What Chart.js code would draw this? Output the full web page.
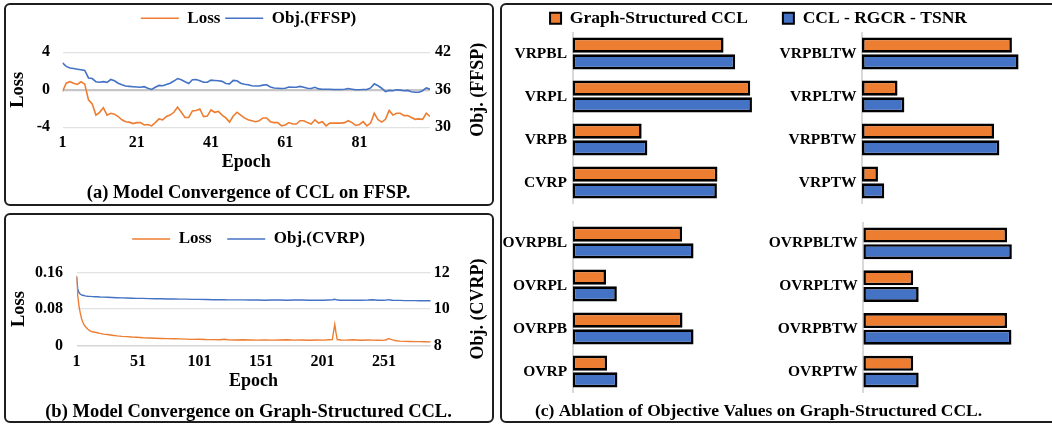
<!DOCTYPE html>
<html><head><meta charset="utf-8">
<script src="https://cdn.jsdelivr.net/npm/chart.js@4.4.1/dist/chart.umd.min.js"></script>
<style>
html,body{margin:0;padding:0;background:#fff;}
body{width:1052px;height:425px;overflow:hidden;position:relative;}
.frame{position:absolute;border:2px solid #1e1e1e;border-radius:6px;box-sizing:border-box;}
canvas{position:absolute;}
</style></head><body>
<div class="frame" style="left:4px;top:3px;width:490px;height:203px"></div>
<div class="frame" style="left:4px;top:213px;width:490px;height:210px"></div>
<div class="frame" style="left:499.5px;top:3px;width:570px;height:420px"></div>
<canvas id="ca" width="487" height="199" style="left:5px;top:5px"></canvas>
<canvas id="cb" width="487" height="208" style="left:5px;top:215px"></canvas>
<canvas id="cc" width="550" height="417" style="left:502px;top:5px"></canvas>
<canvas id="c1" width="263" height="172" style="left:500px;top:32px"></canvas>
<canvas id="c2" width="282" height="172" style="left:770px;top:32px"></canvas>
<canvas id="c3" width="263" height="172" style="left:500px;top:221px"></canvas>
<canvas id="c4" width="293" height="171" style="left:760px;top:222px"></canvas>
<script>
// ---------- Panel (a): FFSP convergence ----------
const epochsA = Array.from({length: 100}, (_, i) => i + 1);
const ticksA = [1, 21, 41, 61, 81];
const lossA = [
  -0.18, 0.7, 0.86, 0.7, 0.57, 0.86, 0.6, -1.07, -1.5, -2.7,
  -2.4, -1.9, -2.7, -2.5, -2.6, -2.85, -3.2, -3.4, -3.45, -3.6,
  -3.5, -3.5, -3.75, -3.7, -3.85, -3.5, -3.1, -3.2, -2.85, -2.7,
  -2.4, -1.85, -2.4, -2.95, -2.95, -2.25, -2.2, -2.05, -2.85, -2.8,
  -2.15, -2.4, -2.3, -2.7, -3.0, -3.45, -2.8, -2.4, -2.7, -3.0,
  -3.2, -3.3, -3.4, -3.3, -3.0, -3.0, -3.4, -3.5, -3.5, -3.85,
  -3.75, -3.5, -3.65, -3.65, -3.3, -3.3, -3.5, -3.65, -3.2, -3.55,
  -3.4, -3.85, -3.55, -3.55, -3.55, -3.55, -3.5, -3.3, -3.5, -3.8,
  -3.7, -3.4, -3.85, -3.55, -2.5, -3.2, -3.45, -3.15, -2.2, -2.7,
  -2.5, -2.5, -2.75, -2.75, -2.95, -3.15, -3.1, -3.15, -2.5, -2.85
];
const objA = [
  40.3, 39.75, 39.5, 39.4, 39.3, 39.2, 39.1, 37.9, 37.8, 37.3,
  37.2, 37.3, 37.2, 37.65, 37.45, 37.05, 36.8, 36.6, 36.55, 36.5,
  36.45, 36.4, 36.5, 36.25, 36.05, 36.4, 36.7, 36.65, 36.85, 37.05,
  37.4, 37.8, 37.6, 37.3, 37.0, 37.6, 37.65, 37.45, 37.2, 37.2,
  37.55, 37.5, 37.45, 37.35, 37.0, 36.95, 37.5, 37.45, 37.05, 36.9,
  36.8, 36.65, 36.6, 36.6, 36.75, 36.8, 36.45, 36.3, 36.25, 36.2,
  36.25, 36.45, 36.4, 36.4, 36.55, 36.4, 36.25, 36.2, 36.4, 36.15,
  36.1, 36.1, 36.1, 36.05, 36.05, 36.05, 36.1, 36.2, 36.1, 36.0,
  36.0, 36.05, 36.05, 36.3, 36.95, 36.65, 36.25, 35.7, 35.9, 35.85,
  36.0, 35.95, 35.85, 35.9, 35.7, 35.6, 35.6, 35.85, 36.3, 36.1
];

// ---------- Panel (b): CVRP convergence ----------
const ticksB = [1, 51, 101, 151, 201, 251];
const epochsB = [1,2,3,4,5,6,7,8,10,12,14,16,18,20,23,26,30,34,38,42,46,50,55,60,65,70,75,80,85,90,95,100,
  106,112,118,121,124,130,136,142,148,154,160,166,172,178,184,190,196,202,206,209,210,211,212,213,216,220,
  226,232,238,242,246,250,253,254,255,256,258,261,264,268,272,276,280,284,289];
const lossB = [0.153,0.109,0.087,0.072,0.060,0.052,0.046,0.042,0.036,0.032,0.030,0.029,0.028,0.0265,0.025,0.024,
  0.0225,0.021,0.020,0.0195,0.0185,0.018,0.017,0.0165,0.016,0.0155,0.015,0.0148,0.0145,0.014,0.0135,0.0138,
  0.013,0.0128,0.0125,0.0138,0.0125,0.0122,0.0125,0.0122,0.0118,0.0122,0.0118,0.012,0.0125,0.0118,0.012,0.0115,
  0.012,0.0118,0.0125,0.013,0.03,0.046,0.028,0.013,0.012,0.0118,0.0125,0.0115,0.012,0.0118,0.0115,0.0112,
  0.0125,0.0145,0.015,0.0138,0.0122,0.0105,0.0095,0.009,0.0088,0.0085,0.0085,0.0082,0.008];
const objB = [11.78,11.1,10.9,10.82,10.78,10.75,10.74,10.72,10.7,10.69,10.68,10.67,10.67,10.66,10.65,10.64,
  10.63,10.62,10.61,10.6,10.59,10.58,10.58,10.57,10.56,10.56,10.55,10.55,10.54,10.54,10.53,10.53,
  10.52,10.51,10.51,10.51,10.5,10.5,10.5,10.49,10.49,10.48,10.49,10.49,10.48,10.49,10.49,10.48,
  10.48,10.48,10.49,10.5,10.52,10.53,10.51,10.49,10.48,10.48,10.48,10.48,10.49,10.51,10.48,10.48,
  10.49,10.5,10.51,10.49,10.48,10.47,10.47,10.46,10.46,10.46,10.45,10.45,10.45];

// ---------- Panel (c): ablation bars (relative bar length, % of axis) ----------
const legendC = ['Graph-Structured CCL', 'CCL - RGCR - TSNR'];
const labelsTL = ['VRPBL', 'VRPL', 'VRPB', 'CVRP'];
const gsTL = [79.3, 93.3, 36.3, 76.1];
const abTL = [85.4, 94.2, 39.3, 75.8];
const labelsTR = ['VRPBLTW', 'VRPLTW', 'VRPBTW', 'VRPTW'];
const gsTR = [78.9, 18.7, 69.5, 8.4];
const abTR = [82.4, 22.3, 72.3, 11.7];
const labelsBL = ['OVRPBL', 'OVRPL', 'OVRPB', 'OVRP'];
const gsBL = [57.5, 17.5, 57.7, 18.1];
const abBL = [63.5, 23.2, 63.5, 23.5];
const labelsBR = ['OVRPBLTW', 'OVRPLTW', 'OVRPBTW', 'OVRPTW'];
const gsBR = [75.8, 26.3, 75.8, 26.3];
const abBR = [78.3, 29.2, 78.1, 29.2];

// ---------- styling ----------
const FONT = "'Liberation Serif','Times New Roman',serif";
const ORANGE = '#ED7D31', BLUE = '#4472C4';
Chart.defaults.font.family = FONT;
Chart.defaults.font.weight = 'bold';
Chart.defaults.color = '#000';

const legendGap = {
  id: 'legendGap',
  beforeLayout(chart, args, opts) {
    const lg = chart.legend;
    if (lg && !lg._gapPatched) {
      const fit = lg.fit;
      lg.fit = function () { fit.call(this); this.height += (opts.gap || 0); };
      lg._gapPatched = true;
    }
  }
};
const rightTitle = {
  id: 'rightTitle',
  afterDraw(chart, args, opts) {
    const t = chart.scales.y1.options.title;
    const ctx = chart.ctx;
    ctx.save();
    ctx.translate(opts.x, (chart.chartArea.top + chart.chartArea.bottom) / 2);
    ctx.rotate(-Math.PI / 2);
    ctx.font = 'bold ' + opts.size + 'px ' + FONT;
    ctx.fillStyle = '#000';
    ctx.textAlign = 'center';
    ctx.textBaseline = 'middle';
    ctx.fillText(t.text, 0, 0);
    ctx.restore();
  }
};

function lineChart(id, cfg) {
  return new Chart(document.getElementById(id), {
    type: 'line',
    data: { datasets: [
      { label: 'Loss', data: cfg.ep.map((e, i) => ({x: e, y: cfg.loss[i]})), borderColor: ORANGE, backgroundColor: ORANGE,
        borderWidth: cfg.lw, pointRadius: 0, tension: 0, yAxisID: 'y' },
      { label: cfg.objLabel, data: cfg.ep.map((e, i) => ({x: e, y: cfg.obj[i]})), borderColor: BLUE, backgroundColor: BLUE,
        borderWidth: cfg.lw, pointRadius: 0, tension: 0, yAxisID: 'y1' }
    ]},
    options: {
      responsive: false, animation: false, layout: { padding: 0 },
      scales: {
        x: { type: 'linear', min: cfg.xmin, max: cfg.xmax,
             afterBuildTicks: ax => { ax.ticks = cfg.ticks.map(v => ({value: v})); },
             grid: { display: false, drawTicks: false }, border: { display: false },
             ticks: { font: { size: 16, weight: 'bold' }, padding: cfg.xpad, maxRotation: 0, autoSkip: false, color: '#000' },
             title: { display: true, text: 'Epoch', font: { size: 18, weight: 'bold' }, padding: { top: 0, bottom: 0 }, color: '#000' },
             afterFit: s => { s.height = cfg.xh; } },
        y: { position: 'left', min: cfg.ymin, max: cfg.ymax,
             ticks: { stepSize: cfg.ystep, font: { size: 16, weight: 'bold' }, padding: cfg.lpad, color: '#000' },
             grid: { drawTicks: false, color: c => (c.tick && c.tick.value === cfg.ymark) ? cfg.markColor : '#e2e2e2',
                     lineWidth: c => (c.tick && c.tick.value === cfg.ymark) ? cfg.markWidth : 1.2 },
             border: { display: false },
             title: { display: true, text: 'Loss', font: { size: 18.5, weight: 'bold' }, padding: { top: cfg.ltpad, bottom: 0 }, color: '#000' },
             afterFit: s => { s.width = cfg.lw1; } },
        y1: { position: 'right', min: cfg.rmin, max: cfg.rmax,
              ticks: { stepSize: cfg.rstep, font: { size: 16, weight: 'bold' }, padding: cfg.rpad, color: '#000' },
              grid: { display: false, drawTicks: false }, border: { display: false },
              title: { display: false, text: cfg.rightTitle, font: { size: 18, weight: 'bold' } },
              afterFit: s => { s.width = cfg.rw; } }
      },
      plugins: {
        legend: { position: 'top', labels: { usePointStyle: true, pointStyle: 'line', pointStyleWidth: 38,
                  font: { size: 17, weight: 'bold' }, padding: cfg.legPad, color: '#000' } },
        title: { display: true, position: 'bottom', text: cfg.caption, font: { size: 18.5, weight: 'bold' }, color: '#000',
                 padding: { top: cfg.capPad, bottom: 0 } },
        tooltip: { enabled: false },
        legendGap: { gap: cfg.gap },
        rightTitle: { x: cfg.rtx, size: 18 }
      }
    },
    plugins: [legendGap, rightTitle]
  });
}

lineChart('ca', { ep: epochsA, loss: lossA, obj: objA, objLabel: 'Obj.(FFSP)', rightTitle: 'Obj. (FFSP)', lw: 1.6,
  xmin: 1, xmax: 100, ticks: ticksA, xpad: 6, xh: 45.5,
  ymin: -4, ymax: 4, ystep: 4, ymark: 0, markColor: '#c6c6c6', markWidth: 2.2, lpad: 12.5, ltpad: 2.4, lw1: 57.5,
  rmin: 30, rmax: 42, rstep: 6, rpad: 5, rw: 62, rtx: 473,
  legPad: 4.8, gap: 15.5, caption: '(a) Model Convergence of CCL on FFSP.', capPad: 9 });

lineChart('cb', { ep: epochsB, loss: lossB, obj: objB, objLabel: 'Obj.(CVRP)', rightTitle: 'Obj. (CVRP)', lw: 1.4,
  xmin: 1, xmax: 289, ticks: ticksB, xpad: 6.6, xh: 47,
  ymin: 0, ymax: 0.16, ystep: 0.08, ymark: 0, markColor: '#d6d6d6', markWidth: 1.6, lpad: 13.5, ltpad: 2.9, lw1: 71.5,
  rmin: 8, rmax: 12, rstep: 2, rpad: 3, rw: 61.3, rtx: 473.5,
  legPad: 15.5, gap: 15, caption: '(b) Model Convergence on Graph-Structured CCL.', capPad: 8.3 });

// frame chart for panel (c): shared legend and caption
new Chart(document.getElementById('cc'), {
  type: 'bar',
  data: { labels: [], datasets: [
    { label: legendC[0], data: [], backgroundColor: ORANGE, borderColor: '#000', borderWidth: 2 },
    { label: legendC[1], data: [], backgroundColor: BLUE, borderColor: '#000', borderWidth: 2 }
  ]},
  options: {
    responsive: false, animation: false,
    layout: { padding: { top: -30.5, right: 37, left: 0, bottom: 0 } },
    scales: { x: { display: false }, y: { display: false } },
    plugins: {
      legend: { labels: { boxWidth: 11, boxHeight: 11, padding: 35, font: { size: 17.5, weight: 'bold' }, color: '#000' } },
      title: { display: true, position: 'bottom', text: '(c) Ablation of Objective Values on Graph-Structured CCL.',
               font: { size: 17.5, weight: 'bold' }, color: '#000', padding: { top: 0, bottom: 0 } },
      tooltip: { enabled: false }
    }
  }
});

function barChart(id, labels, gs, ab, axisW) {
  return new Chart(document.getElementById(id), {
    type: 'bar',
    data: { labels: labels, datasets: [
      { label: legendC[0], data: gs, backgroundColor: ORANGE, borderColor: '#000', borderWidth: 2.6, borderSkipped: false },
      { label: legendC[1], data: ab, backgroundColor: BLUE, borderColor: '#000', borderWidth: 2.6, borderSkipped: false }
    ]},
    options: {
      indexAxis: 'y', responsive: false, animation: false, layout: { padding: 0 },
      datasets: { bar: { categoryPercentage: 0.78, barPercentage: 0.9 } },
      scales: {
        x: { display: false, min: 0, max: 100 },
        y: { grid: { display: false, drawTicks: false }, border: { display: true, color: '#d9d9d9', width: 2 },
             ticks: { font: { size: 15.5, weight: 'bold' }, padding: 5.5, color: '#000' },
             afterFit: s => { s.width = axisW; s.paddingTop = 0; s.paddingBottom = 0; } }
      },
      plugins: { legend: { display: false }, title: { display: false }, tooltip: { enabled: false } }
    }
  });
}
barChart('c1', labelsTL, gsTL, abTL, 72.5);
barChart('c2', labelsTR, gsTR, abTR, 92);
barChart('c3', labelsBL, gsBL, abBL, 72.7);
barChart('c4', labelsBR, gsBR, abBR, 103.3);
</script>
</body></html>
